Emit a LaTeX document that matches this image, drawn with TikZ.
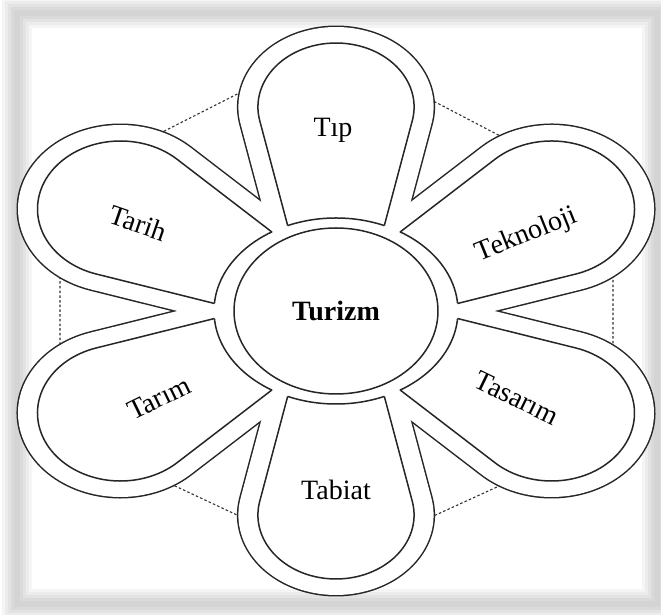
\documentclass[tikz,border=0pt]{standalone}
\usepackage{fontspec}
\setmainfont{Liberation Serif}

% one petal: angle, tip distance, centre distance, radius
\newcommand{\petalpath}[4]{%
  ({#2*#4/(#2+#3)/sqrt(1-(#4/(#2+#3))^2)*sin(#1)},
   {-#2*#4/(#2+#3)/sqrt(1-(#4/(#2+#3))^2)*cos(#1)})
  -- ({(#3-#4*#4/(#2+#3))*cos(#1)+#4*sqrt(1-(#4/(#2+#3))^2)*sin(#1)},
      {(#3-#4*#4/(#2+#3))*sin(#1)-#4*sqrt(1-(#4/(#2+#3))^2)*cos(#1)})
  arc ({#1-90-asin(#4/(#2+#3))}:{#1+90+asin(#4/(#2+#3))}:{#4})
  -- ({-#2*#4/(#2+#3)/sqrt(1-(#4/(#2+#3))^2)*sin(#1)},
      {#2*#4/(#2+#3)/sqrt(1-(#4/(#2+#3))^2)*cos(#1)}) -- cycle}

\begin{document}
\begin{tikzpicture}[
    x=1pt, y=1pt,
    every node/.style={font=\fontsize{28}{32}\selectfont, text=black},
    ink/.style={line width=1.5pt, draw=black!85},
    hexline/.style={line width=1.1pt, black!80, dash pattern=on 2.5pt off 2.2pt}
]
\useasboundingbox (0,0) rectangle (661,615);
\clip (0,0) rectangle (661,615);

    % ==========================
    % FRAME
    % ==========================
    \fill[white] (0,0) rectangle (661,615);
    \foreach \w/\g in {30/8, 24/15, 18/22, 12/29, 6/34}
        \draw[line width=\w pt, gray!\g] (17,11) rectangle (657,602);

    % ==========================
    % DASHED HEXAGON (behind the petals)
    % ==========================
    \coordinate (H1) at (330,568);
    \coordinate (H2) at (613,420);
    \coordinate (H3) at (613,181);
    \coordinate (H4) at (335,54);
    \coordinate (H5) at (60,183);
    \coordinate (H6) at (60,431);
    \draw[hexline] (H1) -- (H2) -- (H3) -- (H4) -- (H5) -- (H6) -- cycle;

    % ==========================
    % FLOWER
    % ==========================
    % petal angle / radius of its round end
    \begin{scope}[shift={(336,304)}, xscale=1.22]

        % 1. Outer contour: black band, then white inside
        \foreach \a/\r in {90/64, 150/68, 210/68, 270/64, 330/68, 30/68}
            \filldraw[black!85, line width=3pt, line join=round]
                \petalpath{\a}{(96+4800/\r)}{204}{(\r+16)};
        \filldraw[black!85, line width=3pt] (0,0) ellipse [x radius=100, y radius=93];
        \foreach \a/\r in {90/64, 150/68, 210/68, 270/64, 330/68, 30/68}
            \fill[white] \petalpath{\a}{(96+4800/\r)}{204}{(\r+16)};
        \fill[white] (0,0) ellipse [x radius=100, y radius=93];

        % 2. Inner petals, cut off by the ring
        \foreach \a/\r in {90/64, 150/68, 210/68, 270/64, 330/68, 30/68} {
            \begin{scope}[even odd rule]
                \clip (-300,-300) rectangle (300,300)
                    (0,0) ellipse [x radius=100, y radius=93];
                \draw[ink, line join=round] \petalpath{\a}{96}{204}{\r};
            \end{scope}
            \begin{scope}
                \clip \petalpath{\a}{96}{204}{\r};
                \draw[ink] (0,0) ellipse [x radius=100, y radius=93];
            \end{scope}
        }

        % 3. Centre
        \draw[ink] (0,0) ellipse [x radius=83.6, y radius=83];
    \end{scope}

    % ==========================
    % LABELS
    % ==========================
    \foreach \name/\txt/\x/\y/\rot in {
        tip/Tıp/333/485/0,
        tarih/Tarih/138/392/-19,
        teknoloji/Teknoloji/527/380/22,
        tarim/Tarım/159/217/26,
        tasarim/Tasarım/517/217/-26,
        tabiat/Tabiat/336/125/0}
    {
        \node[rotate=\rot] (\name) at (\x,\y) {\txt};
    }
    \node[font=\fontsize{28}{32}\selectfont\bfseries] (turizm) at (336,304) {Turizm};

\end{tikzpicture}
\end{document}
